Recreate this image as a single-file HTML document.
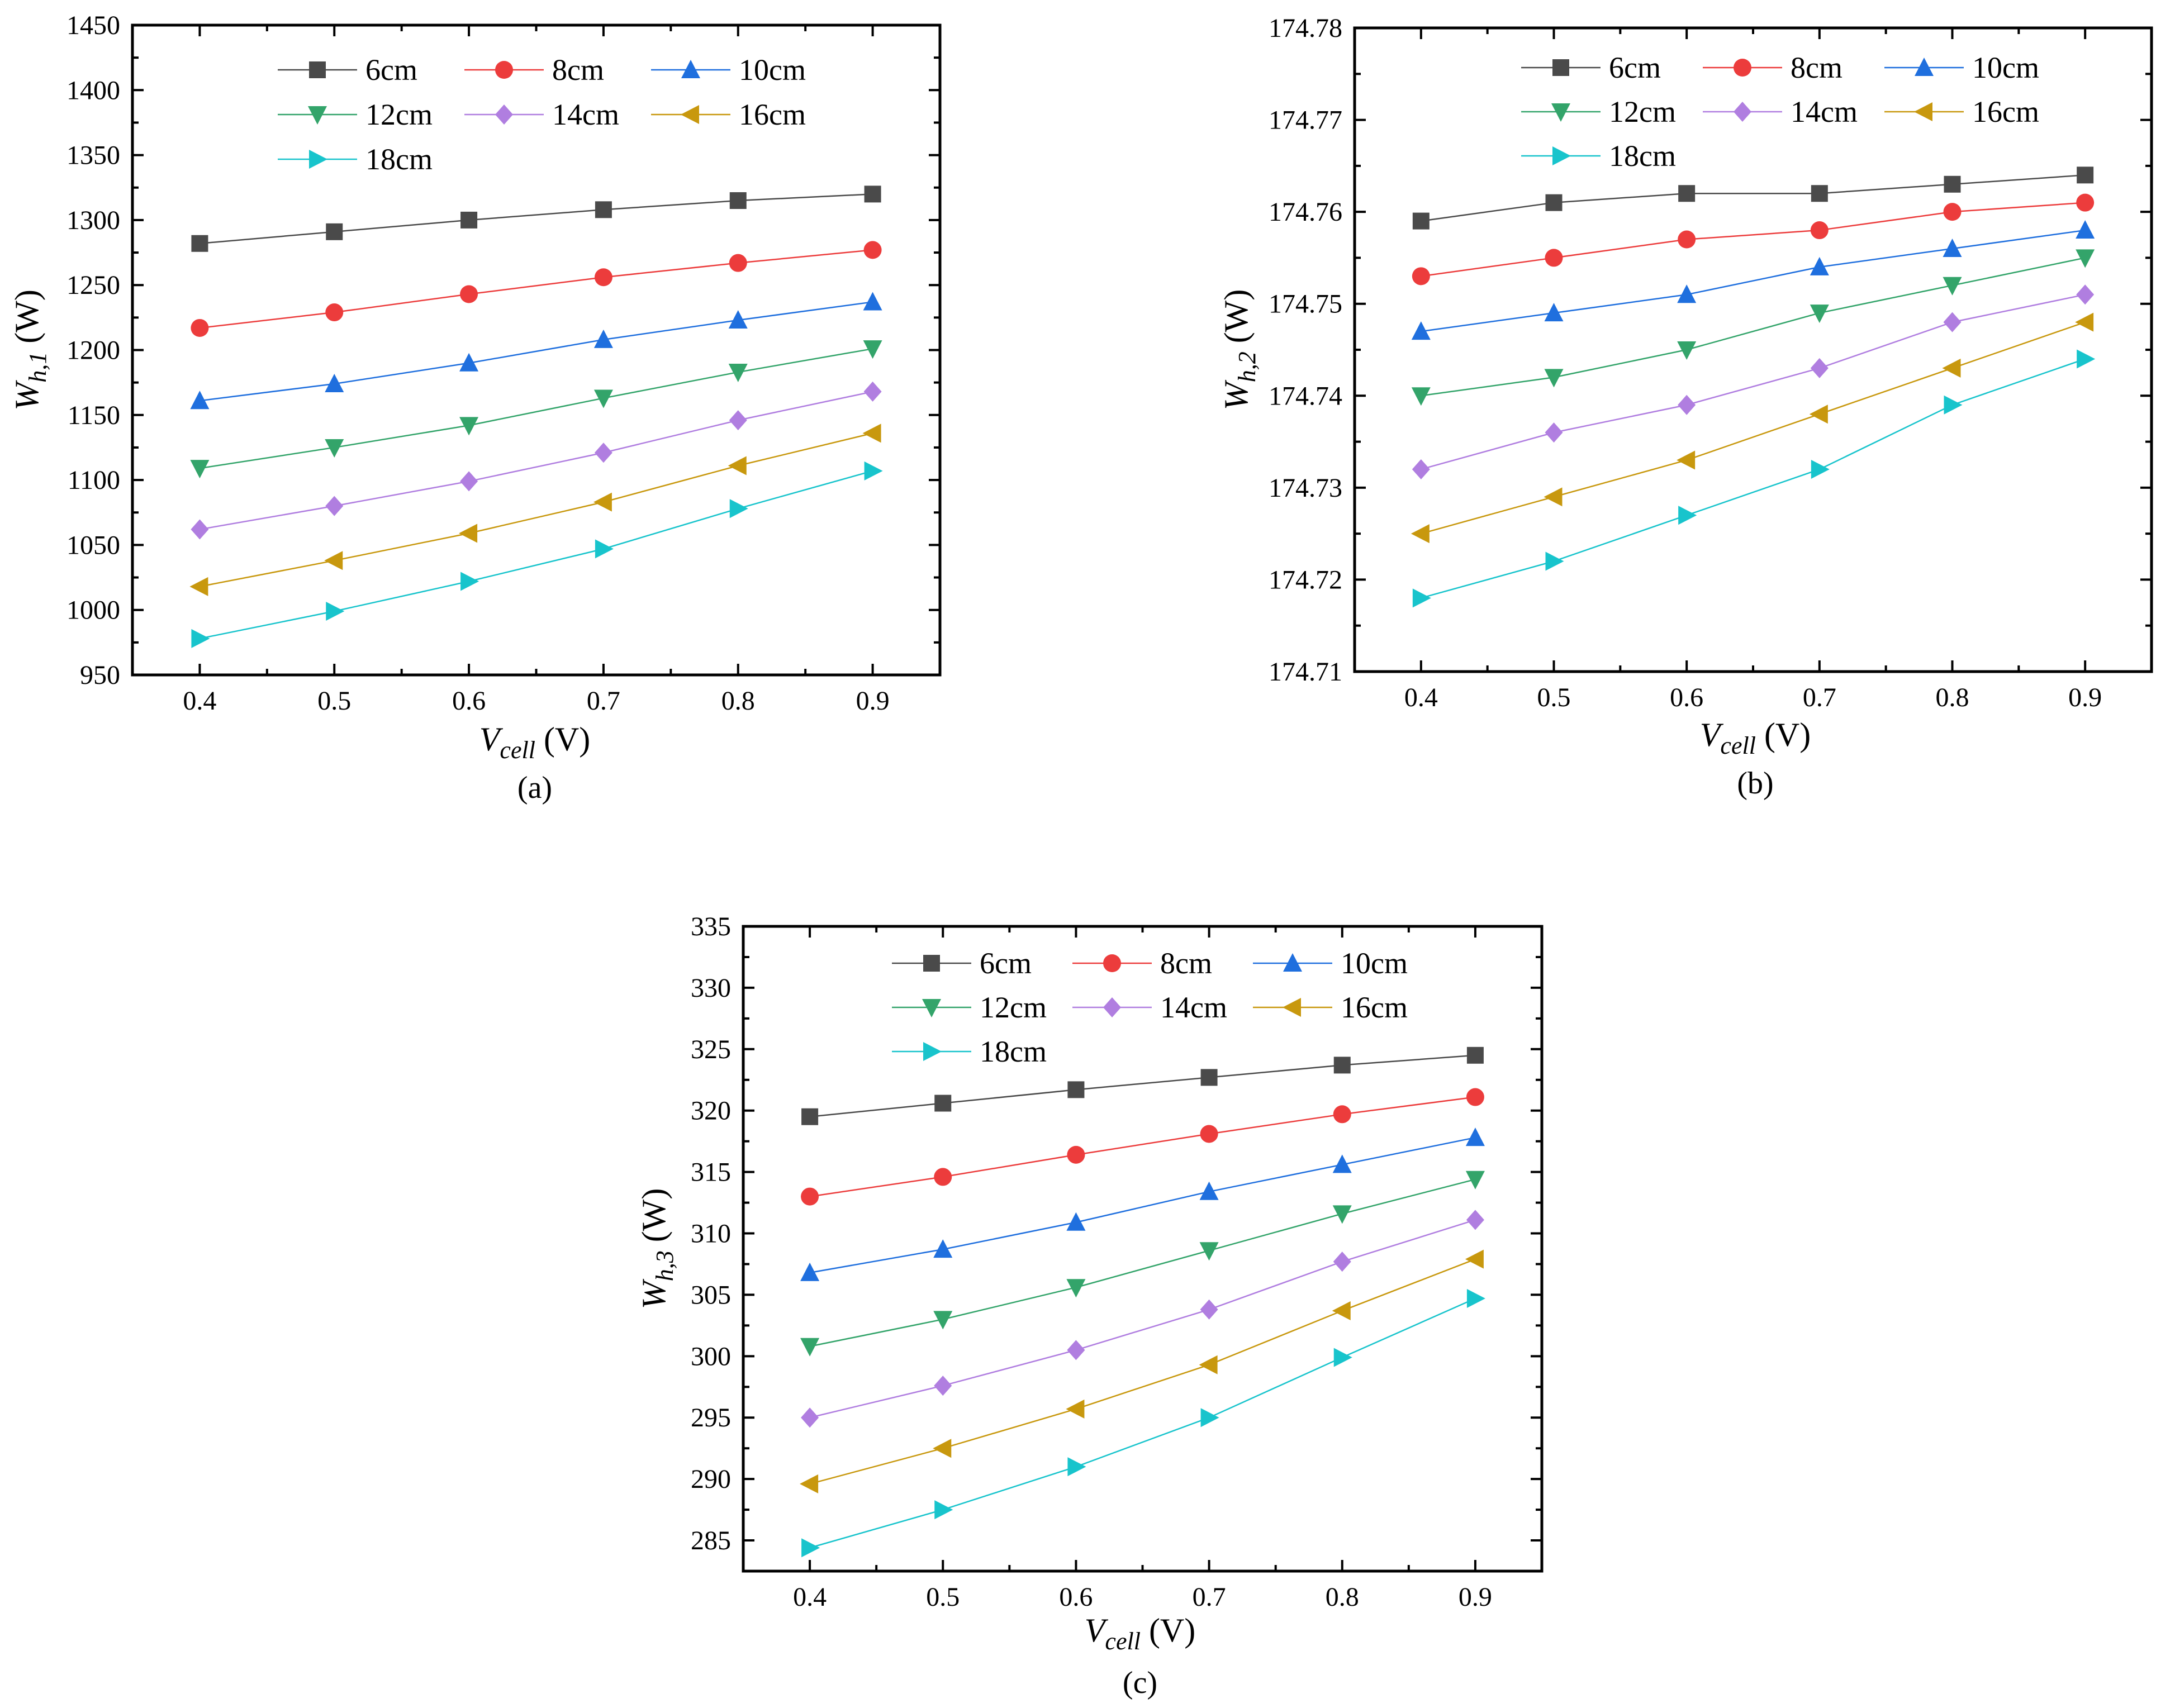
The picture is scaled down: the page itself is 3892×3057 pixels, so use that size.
<!DOCTYPE html>
<html><head><meta charset="utf-8"><style>
html,body{margin:0;padding:0;background:#fff;}
svg, svg text{font-family:"Liberation Serif","DejaVu Serif",serif !important;}
</style></head><body>
<svg id="fig" width="3892" height="3052" viewBox="0 0 3892 3052" xmlns="http://www.w3.org/2000/svg" font-family="Liberation Serif, serif"></svg>
<script>
const xValues=[0.4,0.5,0.6,0.7,0.8,0.9];
const seriesNames=["6cm","8cm","10cm","12cm","14cm","16cm","18cm"];
const aS6=[1282,1291,1300,1308,1315,1320];
const aS8=[1217,1229,1243,1256,1267,1277];
const aS10=[1161,1174,1190,1208,1223,1237];
const aS12=[1109,1125,1142,1163,1183,1201];
const aS14=[1062,1080,1099,1121,1146,1168];
const aS16=[1018,1038,1059,1083,1111,1136];
const aS18=[978,999,1022,1047,1078,1107];
const aTicks=[950,1000,1050,1100,1150,1200,1250,1300,1350,1400,1450];
const bS6=[174.759,174.761,174.762,174.762,174.763,174.764];
const bS8=[174.753,174.755,174.757,174.758,174.760,174.761];
const bS10=[174.747,174.749,174.751,174.754,174.756,174.758];
const bS12=[174.740,174.742,174.745,174.749,174.752,174.755];
const bS14=[174.732,174.736,174.739,174.743,174.748,174.751];
const bS16=[174.725,174.729,174.733,174.738,174.743,174.748];
const bS18=[174.718,174.722,174.727,174.732,174.739,174.744];
const bTicks=[174.71,174.72,174.73,174.74,174.75,174.76,174.77,174.78];
const cS6=[319.5,320.6,321.7,322.7,323.7,324.5];
const cS8=[313.0,314.6,316.4,318.1,319.7,321.1];
const cS10=[306.8,308.7,310.9,313.4,315.6,317.8];
const cS12=[300.8,303.0,305.6,308.6,311.6,314.4];
const cS14=[295.0,297.6,300.5,303.8,307.7,311.1];
const cS16=[289.6,292.5,295.7,299.3,303.7,307.9];
const cS18=[284.4,287.5,291.0,295.0,299.9,304.7];
const cTicks=[285,290,295,300,305,310,315,320,325,330,335];
const xTicks=[0.4,0.5,0.6,0.7,0.8,0.9];

const colors=["#4a4a4a","#ec3c3c","#1f6fde","#33a46a","#b07ee0","#c8980e","#18c4cc"];
const shapes=["square","circle","up","down","diamond","left","right"];
const NS="http://www.w3.org/2000/svg";
const FF="Liberation Serif, serif";
const fig=document.getElementById('fig');
function mk(tag,attrs,parent){const e=document.createElementNS(NS,tag);for(const k in attrs)e.setAttribute(k,attrs[k]);if(tag==='text')e.setAttribute('font-family',FF);(parent||fig).appendChild(e);return e;}
function marker(g,shape,x,y,c){
  const r=15;let e;
  if(shape==="square")e=mk('rect',{x:x-r,y:y-r,width:2*r,height:2*r,fill:c},g);
  else if(shape==="circle")e=mk('circle',{cx:x,cy:y,r:r+1,fill:c},g);
  else{let p;
    if(shape==="up")p=[[x,y-r-3],[x+r+2,y+r],[x-r-2,y+r]];
    else if(shape==="down")p=[[x,y+r+3],[x+r+2,y-r],[x-r-2,y-r]];
    else if(shape==="diamond")p=[[x,y-r-3],[x+r+1,y],[x,y+r+3],[x-r-1,y]];
    else if(shape==="left")p=[[x-r-3,y],[x+r,y-r-2],[x+r,y+r+2]];
    else p=[[x+r+3,y],[x-r,y-r-2],[x-r,y+r+2]];
    e=mk('polygon',{points:p.map(q=>q.join(',')).join(' '),fill:c},g);}
  return e;
}
function chart(cfg){
  const g=mk('g',{});
  
  
  const {L,R,T,B,ymin,ymax}=cfg;
  const xs=v=>L+(v-0.35)/0.6*(R-L);
  const ys=v=>B-(v-ymin)/(ymax-ymin)*(B-T);
  cfg.series.forEach((s,i)=>{
    const sg=mk('g',{},g);
    
    
    mk('polyline',{points:s.map((v,j)=>xs(xValues[j])+','+ys(v)).join(' '),fill:'none',stroke:colors[i],'stroke-width':2.5},sg);
    s.forEach((v,j)=>{const m=marker(sg,shapes[i],xs(xValues[j]),ys(v),colors[i]);
      
      });
  });
  const fr=mk('rect',{x:L,y:T,width:R-L,height:B-T,fill:'none',stroke:'#000','stroke-width':5},g);
  
  
  for(let k=0;k<=12;k++){const v=0.35+k*0.05;const x=xs(v);const maj=(k%2===1);const len=maj?20:11;
    mk('line',{x1:x,y1:B,x2:x,y2:B-len,stroke:'#000','stroke-width':4},g);
    mk('line',{x1:x,y1:T,x2:x,y2:T+len,stroke:'#000','stroke-width':4},g);}
  xTicks.forEach(v=>{const t=mk('text',{x:xs(v),y:B+62,'text-anchor':'middle','font-size':48},g);t.textContent=v.toFixed(1);
    
    });
  const tk=cfg.ticks;const step=tk[1]-tk[0];
  for(let k=0;k<tk.length*2-1;k++){const v=tk[0]+k*step/2;const y=ys(v);const len=(k%2===0)?20:11;
    mk('line',{x1:L,y1:y,x2:L+len,y2:y,stroke:'#000','stroke-width':4},g);
    mk('line',{x1:R,y1:y,x2:R-len,y2:y,stroke:'#000','stroke-width':4},g);}
  tk.forEach(v=>{const t=mk('text',{x:L-22,y:ys(v)+16,'text-anchor':'end','font-size':48},g);t.textContent=cfg.fmt(v);
    
    });
  const lg=mk('g',{},g);
  
  
  seriesNames.forEach((n,i)=>{const col=i%3,row=Math.floor(i/3);
    const x0=cfg.legX+col*cfg.legDX,y0=cfg.legY+row*cfg.legDY;
    const e=mk('g',{},lg);
    
    
    mk('line',{x1:x0,y1:y0,x2:x0+142,y2:y0,stroke:colors[i],'stroke-width':2.5},e);
    marker(e,shapes[i],x0+71,y0,colors[i]);
    const t=mk('text',{x:x0+157,y:y0+18,'font-size':54},e);t.textContent=n;});
  const xt=mk('text',{x:cfg.xtX,y:cfg.xtY,'text-anchor':'middle','font-size':60},g);
  
  
  xt.innerHTML='<tspan font-style="italic">V</tspan><tspan font-style="italic" font-size="44" dy="14">cell</tspan><tspan dy="-14"> (V)</tspan>';
  const yt=mk('text',{x:0,y:0,'text-anchor':'middle','font-size':60,transform:`translate(${cfg.ytX},${(T+B)/2}) rotate(-90)`},g);
  
  
  yt.innerHTML=`<tspan font-style="italic">W</tspan><tspan font-style="italic" font-size="44" dy="14">h,${cfg.idx}</tspan><tspan dy="-14"> (W)</tspan>`;
  const cp=mk('text',{x:cfg.xtX,y:cfg.capY,'text-anchor':'middle','font-size':56},g);
  
  
  cp.textContent=cfg.cap;
}
chart({name:'chart-a',L:237,R:1682,T:45,B:1208,ymin:950,ymax:1450,ticks:aTicks,fmt:v=>String(v),
  series:[aS6,aS8,aS10,aS12,aS14,aS16,aS18],legX:497,legY:125,legDX:334,legDY:80,
  xtX:957,xtY:1343,ytX:68,idx:1,capY:1428,cap:'(a)'});
chart({name:'chart-b',L:2424,R:3850,T:50,B:1202,ymin:174.71,ymax:174.78,ticks:bTicks,fmt:v=>v.toFixed(2),
  series:[bS6,bS8,bS10,bS12,bS14,bS16,bS18],legX:2722,legY:121,legDX:325,legDY:79,
  xtX:3141,xtY:1335,ytX:2232,idx:2,capY:1420,cap:'(b)'});
chart({name:'chart-c',L:1330,R:2759,T:1658,B:2812,ymin:282.5,ymax:335,ticks:cTicks,fmt:v=>String(v),
  series:[cS6,cS8,cS10,cS12,cS14,cS16,cS18],legX:1596,legY:1724,legDX:323,legDY:79,
  xtX:2040,xtY:2938,ytX:1190,idx:3,capY:3030,cap:'(c)'});
</script>
</body></html>
